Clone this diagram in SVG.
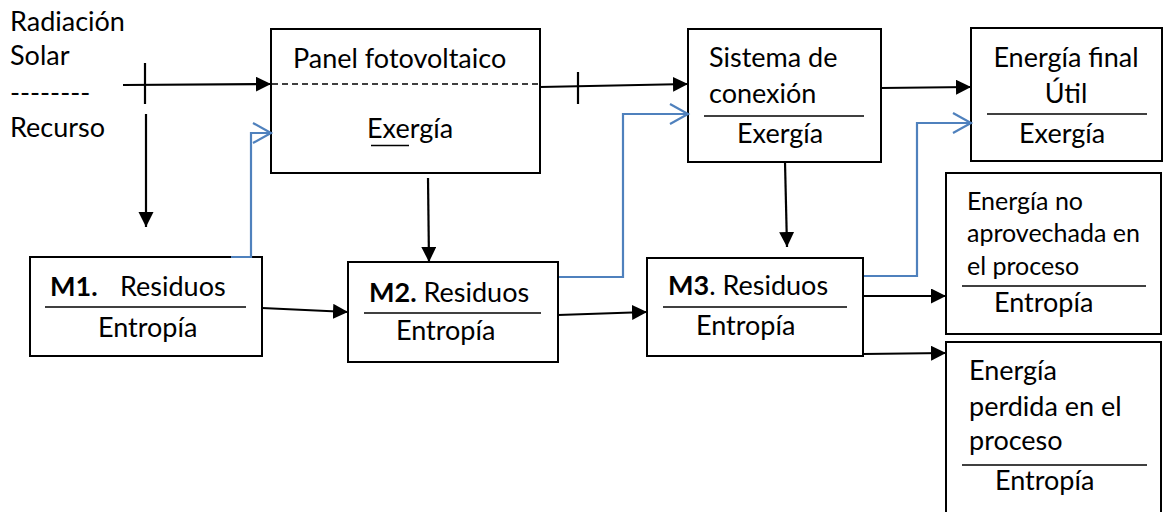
<svg xmlns="http://www.w3.org/2000/svg" width="1163" height="512" viewBox="0 0 1163 512">
<defs>
<style>
text{font-family:Lato,"Open Sans","Liberation Sans",sans-serif;font-size:27px;fill:#000}
.sm{font-size:25px}
.b{font-weight:bold}
.box{fill:#fff;stroke:#000;stroke-width:2}
.sep{stroke:#000;stroke-width:1.6}
.k{fill:none;stroke:#000;stroke-width:2.2}
.bl{fill:none;stroke:#4F81BD;stroke-width:2.2}
</style>
<marker id="ah" markerUnits="userSpaceOnUse" markerWidth="16" markerHeight="16" refX="15" refY="7.5" orient="auto">
<path d="M0,0 L15,7.5 L0,15 z" fill="#000"/>
</marker>
<marker id="bh" markerUnits="userSpaceOnUse" markerWidth="22" markerHeight="24" refX="19" refY="11" orient="auto">
<path d="M1,1 L19,11 L1,21" fill="none" stroke="#4F81BD" stroke-width="2.2"/>
</marker>
</defs>
<rect width="1163" height="512" fill="#fff"/>

<g id="recurso">
<text x="10" y="31">Radiación</text>
<text x="10" y="65">Solar</text>
<text x="10" y="102">--------</text>
<text x="10" y="137">Recurso</text>
</g>

<g id="panel">
<rect class="box" x="271" y="29" width="269" height="144"/>
<line x1="272" y1="84" x2="539" y2="84" stroke="#000" stroke-width="1.6" stroke-dasharray="6,4"/>
<text x="293" y="68">Panel fotovoltaico</text>
<text x="367" y="138">Exergía</text>
<line x1="371" y1="145.5" x2="409" y2="145.5" stroke="#000" stroke-width="1.5"/>
</g>

<g id="sistema">
<rect class="box" x="688" y="29" width="193" height="133"/>
<text x="709" y="67">Sistema de</text>
<text x="709" y="103">conexión</text>
<line class="sep" x1="704" y1="116" x2="864" y2="116"/>
<text x="737" y="143">Exergía</text>
</g>

<g id="final">
<rect class="box" x="971" y="28" width="191" height="133"/>
<text x="1066" y="67" text-anchor="middle">Energía final</text>
<text x="1066" y="103" text-anchor="middle">Útil</text>
<line class="sep" x1="987" y1="114" x2="1147" y2="114"/>
<text x="1019" y="143">Exergía</text>
</g>

<g id="noaprovechada">
<rect class="box" x="946" y="173" width="215" height="161"/>
<text class="sm" x="967" y="210">Energía no</text>
<text class="sm" x="967" y="242">aprovechada en</text>
<text class="sm" x="967" y="275">el proceso</text>
<line class="sep" x1="962" y1="286" x2="1146" y2="286"/>
<text x="994" y="312">Entropía</text>
</g>

<g id="perdida">
<rect class="box" x="946" y="342" width="215" height="180"/>
<text x="969" y="380">Energía</text>
<text x="969" y="416">perdida en el</text>
<text x="969" y="450">proceso</text>
<line class="sep" x1="962" y1="465" x2="1147" y2="465"/>
<text x="995" y="490">Entropía</text>
</g>

<g id="m1">
<rect class="box" x="30" y="257" width="232" height="99"/>
<text x="50" y="296"><tspan class="b">M1.</tspan></text>
<text x="120" y="296">Residuos</text>
<line class="sep" x1="45" y1="307" x2="246" y2="307"/>
<text x="98" y="337">Entropía</text>
</g>

<g id="m2">
<rect class="box" x="348" y="262" width="210" height="100"/>
<text x="369" y="302"><tspan class="b">M2.</tspan> Residuos</text>
<line class="sep" x1="364" y1="313" x2="541" y2="313"/>
<text x="396" y="340">Entropía</text>
</g>

<g id="m3">
<rect class="box" x="647" y="258" width="216" height="98"/>
<text x="668" y="295"><tspan class="b">M3</tspan>. Residuos</text>
<line class="sep" x1="663" y1="307" x2="847" y2="307"/>
<text x="696" y="335">Entropía</text>
</g>

<g id="connectors">
<line class="k" x1="123" y1="85" x2="271" y2="84" marker-end="url(#ah)"/>
<line class="k" x1="145" y1="63" x2="145" y2="104"/>
<line class="k" x1="146" y1="114" x2="146" y2="227" marker-end="url(#ah)"/>
<line class="k" x1="540" y1="87" x2="688" y2="84" marker-end="url(#ah)"/>
<line class="k" x1="578" y1="72" x2="578" y2="104"/>
<line class="k" x1="881" y1="88" x2="971" y2="87" marker-end="url(#ah)"/>
<line class="k" x1="428" y1="178" x2="429" y2="262" marker-end="url(#ah)"/>
<line class="k" x1="785" y1="162" x2="787" y2="247" marker-end="url(#ah)"/>
<line class="k" x1="262" y1="308" x2="348" y2="312" marker-end="url(#ah)"/>
<line class="k" x1="558" y1="315" x2="647" y2="312" marker-end="url(#ah)"/>
<line class="k" x1="863" y1="296" x2="946" y2="296" marker-end="url(#ah)"/>
<line class="k" x1="863" y1="354" x2="946" y2="353" marker-end="url(#ah)"/>
<polyline class="bl" points="231,257 251,257 251,133 271,133" marker-end="url(#bh)"/>
<polyline class="bl" points="559,277 623,277 623,114 688,114" marker-end="url(#bh)"/>
<polyline class="bl" points="864,276 917,276 917,123 971,123" marker-end="url(#bh)"/>
</g>
</svg>
